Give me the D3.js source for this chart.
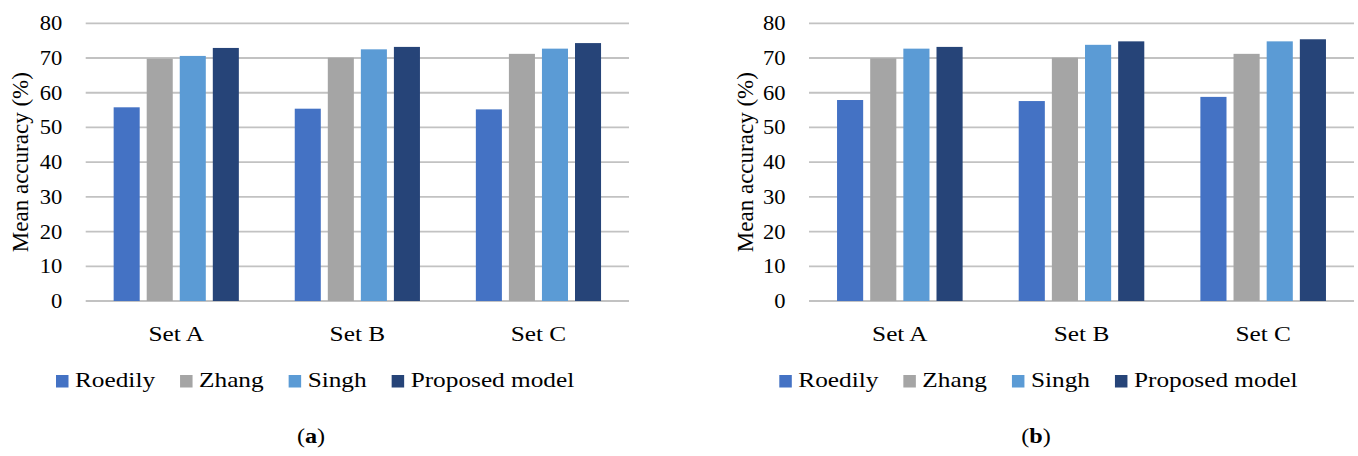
<!DOCTYPE html>
<html>
  <head>
    <meta charset="utf-8">
    <title>Mean accuracy by set</title>
    <script src="https://cdn.jsdelivr.net/npm/d3@7"></script>
    <style>
      body { margin: 0; background: #fff; }
      svg { display: block; }
      text { font-family: "Liberation Serif", "Times New Roman", serif; fill: #000; }
    </style>
  </head>

  <body>
    <div id="chart"></div>

    <script>
      // data
      const categories = ["Set A", "Set B", "Set C"];
      const series = ["Roedily", "Zhang", "Singh", "Proposed model"];
      const colors = ["#4472C4", "#A5A5A5", "#5B9BD5", "#264478"];
      const yTicks = [0, 10, 20, 30, 40, 50, 60, 70, 80];
      // rows = categories, columns = series
      const valuesA = [
        [55.8, 69.8, 70.6, 72.9],
        [55.4, 70.1, 72.5, 73.2],
        [55.2, 71.2, 72.7, 74.3]
      ];
      const valuesB = [
        [57.9, 69.9, 72.7, 73.2],
        [57.6, 70.1, 73.8, 74.8],
        [58.8, 71.2, 74.8, 75.4]
      ];
      const panelLabels = ["a", "b"];

      const width = 1358, height = 456;
      const stretch = 1.15;  // the original serif font is wider than Liberation Serif

      const svg = d3.select("#chart")
        .append("svg")
          .attr("width", width)
          .attr("height", height);

      // panel layout
      const panels = [
        { values: valuesA, label: panelLabels[0], left: 85.7, right: 629, titleX: 20, captionX: 311 },
        { values: valuesB, label: panelLabels[1], left: 809, right: 1354, titleX: 745, captionX: 1036 }
      ];
      const plotTop = 23.3, plotBottom = 301;

      // text helper, stretched horizontally round its anchor point
      function addText(g, x, y, str, anchor, size, sx) {
        return g.append("text")
          .attr("transform", "translate(" + x + "," + y + ") scale(" + (sx || stretch) + ",1)")
          .attr("text-anchor", anchor)
          .style("font-size", size + "px")
          .text(str);
      }

      panels.forEach(function(p) {
        const g = svg.append("g");

        const y = d3.scaleLinear()
          .domain([0, 80])
          .range([plotBottom, plotTop]);
        const x0 = d3.scaleBand()
          .domain(categories)
          .range([p.left, p.right])
          .paddingInner(0.27)
          .paddingOuter(0.135);
        const x1 = d3.scaleBand()
          .domain(series)
          .range([0, x0.bandwidth()])
          .paddingInner(0.212)
          .paddingOuter(0.106);

        // gridlines
        g.selectAll(".grid")
          .data(yTicks)
          .enter().append("line")
            .attr("x1", p.left)
            .attr("x2", p.right)
            .attr("y1", function(d) { return y(d); })
            .attr("y2", function(d) { return y(d); })
            .attr("stroke", "#c2c2c2")
            .attr("stroke-width", 1.8);

        // tick labels
        yTicks.forEach(function(t) {
          addText(g, p.left - 23.5, y(t) + 7, t, "end", 20.5, 1.1);
        });

        // bars
        const groups = g.selectAll(".set")
          .data(p.values)
          .enter().append("g")
            .attr("transform", function(d, i) { return "translate(" + x0(categories[i]) + ",0)"; });
        groups.selectAll("rect")
          .data(function(d) { return d; })
          .enter().append("rect")
            .attr("x", function(d, i) { return x1(series[i]); })
            .attr("y", function(d) { return y(d); })
            .attr("width", x1.bandwidth())
            .attr("height", function(d) { return y(0) - y(d); })
            .attr("fill", function(d, i) { return colors[i]; });

        // category labels
        categories.forEach(function(c) {
          addText(g, x0(c) + x0.bandwidth() / 2, 341, c, "middle", 22);
        });

        // y axis title
        g.append("text")
          .attr("transform", "translate(" + (p.titleX + 8) + "," + ((plotTop + plotBottom) / 2) + ") rotate(-90)")
          .attr("text-anchor", "middle")
          .style("font-size", "23px")
          .text("Mean accuracy (%)");

        // legend
        let lx = p.left - 29.7;
        series.forEach(function(s, i) {
          g.append("rect")
            .attr("x", lx)
            .attr("y", 375)
            .attr("width", 12.5)
            .attr("height", 12.5)
            .attr("fill", colors[i]);
          const t = addText(g, lx + 19, 386.5, s, "start", 22);
          lx += 19 + t.node().getComputedTextLength() * stretch + 25;
        });

        // panel caption
        const cap = g.append("text")
          .attr("transform", "translate(" + p.captionX + ",443) scale(1.1,1)")
          .attr("text-anchor", "middle")
          .style("font-size", "22px");
        cap.append("tspan").text("(");
        cap.append("tspan").style("font-weight", "bold").text(p.label);
        cap.append("tspan").text(")");
      });
    </script>
  </body>
</html>
